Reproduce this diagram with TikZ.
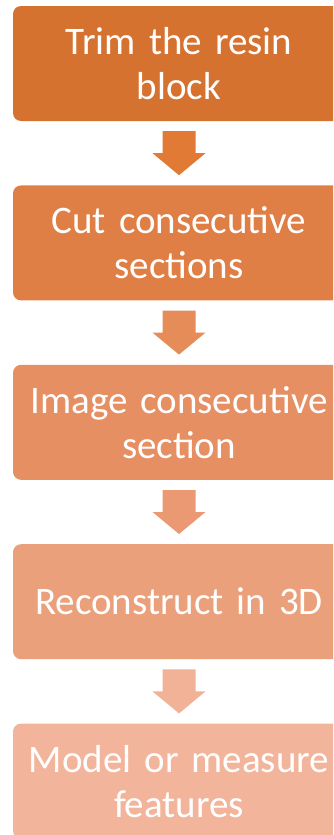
\documentclass[tikz,border=0pt]{standalone}
\usepackage{fontspec}
\setmainfont{Carlito}[WordSpace=0.75]
\usetikzlibrary{positioning,calc}

\definecolor{boxA}{RGB}{214,114,48}
\definecolor{boxB}{RGB}{223,127,70}
\definecolor{boxC}{RGB}{230,143,99}
\definecolor{boxD}{RGB}{235,160,124}
\definecolor{boxE}{RGB}{242,180,154}
\definecolor{arrA}{RGB}{224,122,52}
\definecolor{arrB}{RGB}{230,140,88}
\definecolor{arrC}{RGB}{234,153,114}
\definecolor{arrD}{RGB}{241,178,152}

\tikzset{
  stepbox/.style={fill=#1, rounded corners=8pt, minimum width=332pt,
    minimum height=115pt, text width=330pt, align=center, text=white,
    inner sep=0pt, font=\fontsize{39}{45}\selectfont},
  downarrow/.style={fill=#1}
}

\begin{document}
\begin{tikzpicture}[x=1pt,y=1pt]
\useasboundingbox (0,0) rectangle (333,-835);
\clip (0,0) rectangle (333,-835);

%Steps of the workflow
\node[stepbox=boxA] (trim) at (179,-63.5) {Trim the resin\\block};
\node[stepbox=boxB, below=64pt of trim] (cut) {Cut consecutive\\sections};
\node[stepbox=boxC, below=64pt of cut] (image) {Image consecutive\\section};
\node[stepbox=boxD, below=64pt of image] (recon) {Reconstruct in 3D};
\node[stepbox=boxE, below=64pt of recon] (model) {Model or measure\\features};

%Block arrows between the steps
\foreach \a/\b/\c in {trim/cut/arrA, cut/image/arrB, image/recon/arrC, recon/model/arrD}{
  \fill[downarrow=\c] ($(\a.south)+(-16.5,-10)$) -- ++(33,0) -- ++(0,-22) -- ++(10,0)
    -- ($(\b.north)+(0,10)$) -- ($(\a.south)+(-26.5,-32)$) -- ++(10,0) -- cycle;
}

\end{tikzpicture}
\end{document}
